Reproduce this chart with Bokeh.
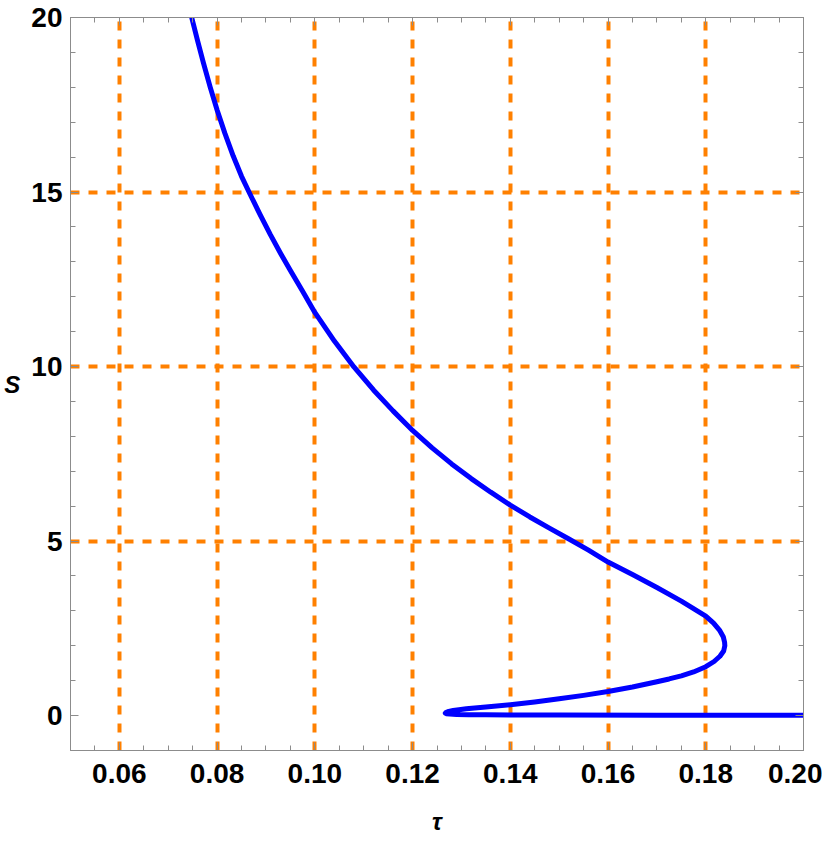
from bokeh.plotting import figure
from bokeh.models import (Range1d, LinearAxis, SingleIntervalTicker, FixedTicker,
                          PrintfTickFormatter, CustomJSTickFormatter)
from bokeh.embed import file_html
from bokeh.resources import INLINE

# ---- data (tau, S) ----
# upper (large) branch, from the top edge down to the right turning point
tau_upper = [0.0748, 0.0760, 0.0772, 0.0786, 0.0800, 0.0816, 0.0833, 0.0850,
             0.0867, 0.0888, 0.0909, 0.0930, 0.0950, 0.0975, 0.1000, 0.1040,
             0.1080, 0.1120, 0.1160, 0.1200, 0.1240, 0.1280, 0.1320, 0.1360,
             0.1400, 0.1440, 0.1480, 0.1520, 0.1560, 0.1600, 0.1650, 0.1700,
             0.1750, 0.1800, 0.1816, 0.1828, 0.1836, 0.18385]
S_upper = [20.0, 19.34, 18.70, 18.00, 17.35, 16.68, 16.03, 15.45,
           14.95, 14.35, 13.78, 13.24, 12.75, 12.16, 11.55, 10.73,
           9.99, 9.33, 8.73, 8.17, 7.67, 7.21, 6.79, 6.40,
           6.03, 5.69, 5.37, 5.06, 4.74, 4.40, 4.04, 3.67,
           3.28, 2.85, 2.65, 2.45, 2.25, 2.10]
# middle branch, from the right turning point back to the left cusp
tau_middle = [0.1839, 0.18366, 0.1829, 0.1817, 0.1800, 0.1775, 0.1750, 0.1725,
              0.1700, 0.1650, 0.1600, 0.1550, 0.1500, 0.1450, 0.1400, 0.1350,
              0.1310, 0.1295, 0.1283, 0.1274, 0.1269, 0.1267]
S_middle = [2.0, 1.85, 1.70, 1.55, 1.40, 1.25, 1.14, 1.05,
            0.97, 0.82, 0.69, 0.58, 0.48, 0.39, 0.31, 0.245,
            0.195, 0.17, 0.145, 0.12, 0.095, 0.072]
# lower (small) branch, from the cusp to the right edge
tau_lower = [0.1269, 0.1276, 0.1290, 0.1315, 0.1350, 0.1400, 0.1500, 0.1700,
             0.2000]
S_lower = [0.055, 0.043, 0.034, 0.027, 0.022, 0.018, 0.014, 0.011,
           0.009]

tau = tau_upper + tau_middle + tau_lower
S = S_upper + S_middle + S_lower

grid_x = [0.06, 0.08, 0.10, 0.12, 0.14, 0.16, 0.18]
grid_y = [5, 10, 15]
x_range = (0.05, 0.20)
y_range = (-1.0, 20.0)

FRAME = "#8c8c8c"
FONT = "Liberation Sans"

p = figure(frame_width=733, frame_height=733, output_backend="svg",
           toolbar_location=None,
           x_range=Range1d(*x_range), y_range=Range1d(*y_range),
           x_axis_label="τ", y_axis_label="S",
           min_border_left=70, min_border_right=19, min_border_top=17,
           min_border_bottom=80)
p.background_fill_color = "white"
p.border_fill_color = "white"
p.outline_line_color = FRAME
p.outline_line_width = 1

# grid lines (orange, dashed)
p.xgrid.ticker = FixedTicker(ticks=grid_x)
p.ygrid.ticker = FixedTicker(ticks=grid_y)
for g in (p.xgrid, p.ygrid):
    g.grid_line_color = "#FF8000"
    g.grid_line_width = 4
    g.grid_line_dash = "9 9"

def style_axis(ax, ticker, show_labels):
    ax.ticker = ticker
    ax.axis_line_color = FRAME
    ax.major_tick_line_color = FRAME
    ax.minor_tick_line_color = FRAME
    ax.major_tick_in = 8
    ax.major_tick_out = 0
    ax.minor_tick_in = 5
    ax.minor_tick_out = 0
    if show_labels:
        ax.major_label_text_font = FONT
        ax.major_label_text_font_style = "bold"
        ax.major_label_text_font_size = "28px"
        ax.major_label_text_color = "black"
        ax.axis_label_text_font = FONT
        ax.axis_label_text_font_style = "bold italic"
        ax.axis_label_text_font_size = "24px"
        ax.axis_label_text_color = "black"
    else:
        ax.formatter = CustomJSTickFormatter(code="return '';")
        ax.major_label_standoff = 0

xa = p.xaxis[0]
style_axis(xa, SingleIntervalTicker(interval=0.02, num_minor_ticks=4), True)
xa.formatter = PrintfTickFormatter(format="%.2f")
xa.major_label_standoff = 13
xa.axis_label_standoff = 22

ya = p.yaxis[0]
style_axis(ya, SingleIntervalTicker(interval=5, num_minor_ticks=5), True)
ya.formatter = PrintfTickFormatter(format="%d")
ya.major_label_standoff = 8
ya.axis_label_standoff = 8
ya.axis_label_orientation = "horizontal"

top = LinearAxis()
style_axis(top, SingleIntervalTicker(interval=0.02, num_minor_ticks=4), False)
p.add_layout(top, "above")
right = LinearAxis()
style_axis(right, SingleIntervalTicker(interval=5, num_minor_ticks=5), False)
p.add_layout(right, "right")

p.line(tau, S, line_color="#0000FF", line_width=5, line_join="round",
       line_cap="round")

open("out.html", "w").write(file_html(p, INLINE))
